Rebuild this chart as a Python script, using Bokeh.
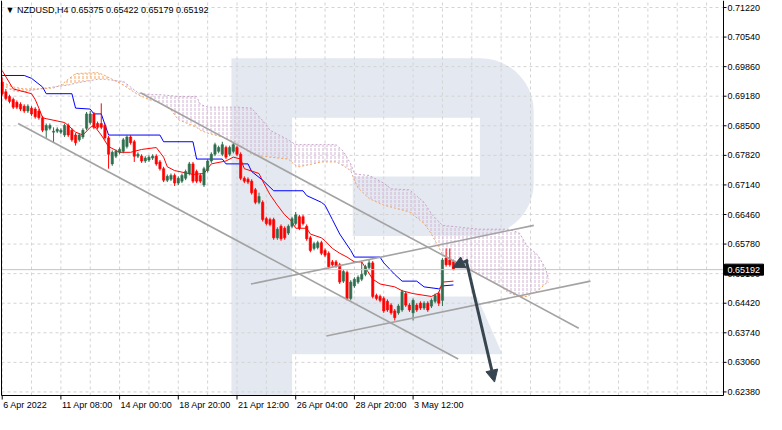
import numpy as np
from bokeh.plotting import figure
from bokeh.models import Range1d, ColumnDataSource, Arrow, NormalHead
from bokeh.core.properties import value
from bokeh.embed import file_html
from bokeh.resources import INLINE

# ---------------- data ----------------
bars = list(range(124))
open_ = [0.69503, 0.69282, 0.69171, 0.69105, 0.69039, 0.68994, 0.68950, 0.68840, 0.68906, 0.68884,
         0.68840, 0.68685, 0.68398, 0.68442, 0.68354, 0.68376, 0.68354, 0.68287, 0.68508, 0.68398,
         0.68287, 0.68177, 0.68243, 0.68442, 0.68575, 0.68773, 0.68553, 0.68553, 0.68508, 0.68221,
         0.67624, 0.67801, 0.67890, 0.67912, 0.68022, 0.68243, 0.68133, 0.67801, 0.67801, 0.67691,
         0.67713, 0.67757, 0.67801, 0.67669, 0.67514, 0.67249, 0.67271, 0.67359, 0.67182, 0.67227,
         0.67293, 0.67403, 0.67624, 0.67448, 0.67359, 0.67138, 0.67470, 0.67691, 0.67845, 0.67912,
         0.67845, 0.68000, 0.67845, 0.67912, 0.68000, 0.67845, 0.67293, 0.67271, 0.67227, 0.67028,
         0.66740, 0.66740, 0.66365, 0.66343, 0.66343, 0.65923, 0.66188, 0.66144, 0.66033, 0.66188,
         0.66254, 0.66409, 0.66409, 0.66188, 0.65923, 0.65680, 0.65702, 0.65812, 0.65635, 0.65569,
         0.65370, 0.65370, 0.65304, 0.64928, 0.65127, 0.64530, 0.64818, 0.64906, 0.64972, 0.65083,
         0.65238, 0.65348, 0.64597, 0.64575, 0.64530, 0.64464, 0.64376, 0.64243, 0.64199, 0.64265,
         0.64641, 0.64376, 0.64199, 0.64376, 0.64420, 0.64309, 0.64420, 0.64354, 0.64464, 0.64641,
         0.64486, 0.65459, 0.65414, 0.65375]
high_ = [0.69613, 0.69348, 0.69215, 0.69149, 0.69083, 0.69039, 0.68994, 0.68994, 0.68950, 0.68928,
         0.68884, 0.68729, 0.68553, 0.68553, 0.68464, 0.68464, 0.68442, 0.68553, 0.68553, 0.68442,
         0.68332, 0.68332, 0.68442, 0.68818, 0.68840, 0.68818, 0.68597, 0.69016, 0.68553, 0.68265,
         0.67934, 0.67956, 0.68000, 0.68221, 0.68287, 0.68287, 0.68177, 0.67890, 0.67845, 0.67801,
         0.67823, 0.67845, 0.67845, 0.67713, 0.67558, 0.67381, 0.67403, 0.67403, 0.67337, 0.67403,
         0.67492, 0.67669, 0.67669, 0.67492, 0.67403, 0.67558, 0.67735, 0.67890, 0.68111, 0.68044,
         0.68133, 0.68044, 0.68044, 0.68111, 0.68044, 0.67890, 0.67337, 0.67315, 0.67271, 0.67072,
         0.66961, 0.66785, 0.66409, 0.66387, 0.66387, 0.66166, 0.66232, 0.66188, 0.66232, 0.66409,
         0.66519, 0.66453, 0.66453, 0.66232, 0.65967, 0.65834, 0.65856, 0.65856, 0.65680, 0.65613,
         0.65414, 0.65414, 0.65348, 0.65193, 0.65171, 0.64950, 0.65017, 0.65061, 0.65370, 0.65304,
         0.65414, 0.65392, 0.64641, 0.64619, 0.64575, 0.64508, 0.64420, 0.64287, 0.64398, 0.64729,
         0.64685, 0.64420, 0.64530, 0.64420, 0.64464, 0.64464, 0.64464, 0.64530, 0.64641, 0.64685,
         0.65459, 0.65680, 0.65680, 0.65422]
low_ = [0.69193, 0.69083, 0.69016, 0.68884, 0.68884, 0.68840, 0.68796, 0.68796, 0.68729, 0.68663,
        0.68641, 0.68354, 0.68221, 0.68398, 0.68111, 0.68332, 0.68310, 0.68243, 0.68243, 0.68133,
        0.68044, 0.68133, 0.68199, 0.68398, 0.68530, 0.68420, 0.68420, 0.68420, 0.68177, 0.67514,
        0.67580, 0.67757, 0.67845, 0.67868, 0.67978, 0.68066, 0.67669, 0.67757, 0.67647, 0.67647,
        0.67669, 0.67713, 0.67580, 0.67470, 0.67205, 0.67205, 0.67227, 0.67116, 0.67138, 0.67182,
        0.67249, 0.67359, 0.67182, 0.67182, 0.67182, 0.67094, 0.67426, 0.67647, 0.67801, 0.67868,
        0.67801, 0.67735, 0.67801, 0.67868, 0.67801, 0.67249, 0.67182, 0.67160, 0.66917, 0.66696,
        0.66696, 0.66298, 0.66210, 0.66188, 0.65879, 0.65879, 0.65856, 0.65879, 0.65989, 0.66144,
        0.66210, 0.66100, 0.66210, 0.65856, 0.65591, 0.65635, 0.65658, 0.65525, 0.65481, 0.65216,
        0.65260, 0.65238, 0.64862, 0.64884, 0.64486, 0.64486, 0.64774, 0.64862, 0.64928, 0.65039,
        0.65193, 0.64530, 0.64486, 0.64442, 0.64199, 0.64221, 0.64155, 0.64022, 0.64155, 0.64221,
        0.64332, 0.64221, 0.64022, 0.64221, 0.64265, 0.64265, 0.64221, 0.64309, 0.64420, 0.64354,
        0.64354, 0.65260, 0.65260, 0.65179]
close_ = [0.69238, 0.69127, 0.69061, 0.68928, 0.68928, 0.68884, 0.68840, 0.68950, 0.68773, 0.68707,
          0.68685, 0.68398, 0.68508, 0.68508, 0.68376, 0.68420, 0.68398, 0.68508, 0.68287, 0.68177,
          0.68111, 0.68287, 0.68398, 0.68773, 0.68773, 0.68464, 0.68464, 0.68464, 0.68221, 0.67845,
          0.67890, 0.67912, 0.67956, 0.68177, 0.68243, 0.68111, 0.67801, 0.67845, 0.67691, 0.67757,
          0.67779, 0.67801, 0.67624, 0.67514, 0.67249, 0.67337, 0.67359, 0.67182, 0.67293, 0.67359,
          0.67448, 0.67624, 0.67227, 0.67227, 0.67227, 0.67514, 0.67691, 0.67845, 0.68066, 0.68000,
          0.68066, 0.67779, 0.68000, 0.68066, 0.67845, 0.67293, 0.67227, 0.67205, 0.66961, 0.66740,
          0.66873, 0.66343, 0.66254, 0.66232, 0.65923, 0.66122, 0.65901, 0.65923, 0.66188, 0.66365,
          0.66453, 0.66144, 0.66254, 0.65901, 0.65635, 0.65790, 0.65812, 0.65569, 0.65525, 0.65260,
          0.65304, 0.65282, 0.64906, 0.65149, 0.64530, 0.64906, 0.64972, 0.65017, 0.65083, 0.65260,
          0.65348, 0.64575, 0.64530, 0.64486, 0.64243, 0.64265, 0.64199, 0.64088, 0.64354, 0.64685,
          0.64376, 0.64265, 0.64486, 0.64265, 0.64309, 0.64420, 0.64265, 0.64486, 0.64597, 0.64420,
          0.65414, 0.65304, 0.65304, 0.65192]

tenkan_bar = [0, 3, 8, 9, 10, 11, 12, 17, 18, 20, 22, 24, 25, 27, 29, 32, 35, 38, 42, 44,
              45, 47, 52, 55, 57, 61, 63, 65, 66, 70, 71, 73, 75, 77, 79, 80, 83, 84, 87, 88,
              90, 92, 94, 96, 98, 101, 103, 107, 109, 112, 117, 119, 120, 123]
tenkan_val = [0.69768, 0.69348, 0.69238, 0.69105, 0.68906, 0.68685, 0.68663, 0.68575, 0.68508, 0.68354,
              0.68287, 0.68464, 0.68508, 0.68287, 0.68022, 0.67890, 0.67890, 0.67956, 0.68000, 0.67779,
              0.67558, 0.67470, 0.67381, 0.67403, 0.67624, 0.67691, 0.67779, 0.67735, 0.67514, 0.67403,
              0.67227, 0.66917, 0.66674, 0.66453, 0.66298, 0.66144, 0.66144, 0.66011, 0.65923, 0.65856,
              0.65680, 0.65569, 0.65481, 0.65370, 0.65370, 0.64972, 0.64862, 0.64796, 0.64707, 0.64641,
              0.64575, 0.64663, 0.64906, 0.64928]
kijun_bar = [0, 6, 8, 11, 12, 19, 20, 24, 25, 27, 29, 43, 44, 52, 53, 60, 61, 67, 68, 71,
             74, 82, 83, 87, 88, 90, 92, 95, 96, 103, 104, 107, 109, 113, 115, 119, 120, 123]
kijun_val = [0.69657, 0.69657, 0.69591, 0.69392, 0.69238, 0.69238, 0.68906, 0.68884, 0.68773, 0.68773,
             0.68287, 0.68287, 0.68133, 0.68133, 0.67735, 0.67735, 0.67624, 0.67624, 0.67448, 0.67249,
             0.67006, 0.67006, 0.66895, 0.66740, 0.66674, 0.66343, 0.66011, 0.65635, 0.65481, 0.65481,
             0.65348, 0.65083, 0.64928, 0.64928, 0.64796, 0.64751, 0.64818, 0.64840]
cloud_bar = [0, 3, 6, 10, 14, 16, 18, 20, 26, 28, 30, 32, 33, 35, 37, 40, 43, 46, 48, 53,
             54, 56, 60, 64, 68, 71, 73, 78, 80, 81, 87, 91, 93, 95, 96, 97, 100, 104, 106, 111,
             115, 117, 119, 120, 125, 130, 135, 138, 141, 143, 146, 148, 149]
span_a = [0.69503, 0.69392, 0.69348, 0.69348, 0.69370, 0.69436, 0.69569, 0.69701, 0.69724, 0.69657,
          0.69569, 0.69481, 0.69436, 0.69326, 0.69215, 0.69105, 0.69039, 0.68862, 0.68641, 0.68464,
          0.68398, 0.68332, 0.68243, 0.68111, 0.67845, 0.67801, 0.67779, 0.67735, 0.67580, 0.67558,
          0.67669, 0.67669, 0.67580, 0.67470, 0.67249, 0.67072, 0.66829, 0.66674, 0.66630, 0.66519,
          0.66254, 0.66011, 0.65702, 0.65547, 0.65304, 0.65083, 0.64862, 0.64663, 0.64575, 0.64575,
          0.64707, 0.64862, 0.64906]
span_b = [0.69436, 0.69304, 0.69282, 0.69348, 0.69392, 0.69414, 0.69436, 0.69481, 0.69569, 0.69569,
          0.69547, 0.69525, 0.69525, 0.69392, 0.69260, 0.69215, 0.69215, 0.69193, 0.69171, 0.69171,
          0.68994, 0.68928, 0.68928, 0.68928, 0.68906, 0.68619, 0.68398, 0.68177, 0.68066, 0.68066,
          0.68066, 0.68066, 0.67912, 0.67624, 0.67403, 0.67381, 0.67359, 0.67182, 0.67050, 0.67028,
          0.66740, 0.66475, 0.66298, 0.66210, 0.66166, 0.66122, 0.66122, 0.66122, 0.66033, 0.65746,
          0.65525, 0.65238, 0.64972]

tick_bars = [0, 16, 32, 48, 64, 80, 96, 112]
tick_labels = ["6 Apr 2022", "11 Apr 08:00", "14 Apr 00:00", "18 Apr 20:00",
               "21 Apr 12:00", "26 Apr 04:00", "28 Apr 20:00", "3 May 12:00"]
price_ticks = [0.6238, 0.6306, 0.6374, 0.6442, 0.6510, 0.6578, 0.6646,
               0.6714, 0.6782, 0.6850, 0.6918, 0.6986, 0.7054, 0.7122]
last_price = 0.65192
title_text = "\u25bc NZDUSD,H4  0.65375 0.65422 0.65179 0.65192"

# analyst drawings (bar index, price)
trend_x0 = [4.35, 37.7, 67.8, 88.35]
trend_y0 = [0.68553, 0.69260, 0.64862, 0.63668]
trend_x1 = [124.3, 157.15, 144.9, 160.35]
trend_y1 = [0.63138, 0.63845, 0.66210, 0.64928]
arrow_x0 = [126.5, 127.0]
arrow_y0 = [0.65392, 0.65414]
arrow_x1 = [134.2, 122.75]
arrow_y1 = [0.62607, 0.65238]

# ---------------- layout / styling ----------------
W, H = 766, 414
L, R, T, B = 1, 723, 0, 395          # chart frame inside the canvas (px)
X0, X1 = -0.19, 196.61               # bars visible in the chart frame
Y0, Y1 = 0.62298, 0.71381            # prices visible in the chart frame
KX = (X1 - X0) / (R - L)             # bars per pixel
KY = (Y1 - Y0) / (B - T)             # price per pixel
FONT = "Liberation Sans"
FS = "9px"
BULL = "#2f6e4e"
BEAR = "#ff0000"
ARROW = "#36454f"
LOGO = "#e4e9f1"
GRID = "#d3d3d3"

p = figure(width=W, height=H, output_backend="svg", toolbar_location=None,
           x_range=Range1d(X0 - L * KX, X1 + (W - R) * KX),
           y_range=Range1d(Y0 - (H - B) * KY, Y1 + T * KY),
           x_axis_location=None, y_axis_location=None,
           min_border=0, min_border_left=0, min_border_right=0,
           min_border_top=0, min_border_bottom=0,
           background_fill_color="white", border_fill_color="white",
           outline_line_color=None)
p.xgrid.visible = False
p.ygrid.visible = False

# watermark "R" (geometry in the reference's pixel layout of the chart frame)
def fx(px):
    return X0 + (px - 1.0) / 738.0 * (X1 - X0)

def fy(py):
    return Y1 - py / 411.0 * (Y1 - Y0)

stem = [(236, 60), (298, 60), (298, 411), (236, 411)]
bowl = [(298, 60), (490, 60)]
for t in np.linspace(0, np.pi / 2, 12):
    bowl.append((490 + 55 * np.sin(t), 115 - 55 * np.cos(t)))
bowl.append((545, 190))
for t in np.linspace(0, np.pi / 2, 12):
    bowl.append((490 + 55 * np.cos(t), 190 + 55 * np.sin(t)))
bowl += [(360, 245), (360, 183), (490, 183), (490, 122), (298, 122)]
leg = [(298, 308), (487, 308), (513, 368), (298, 368)]
p.patches([[fx(a) for a, _ in poly] for poly in (stem, bowl, leg)],
          [[fy(b) for _, b in poly] for poly in (stem, bowl, leg)],
          fill_color=LOGO, line_color=None)

# grid (dashed), limited to the chart frame
gx = list(range(0, 200, 8))
p.segment(x0=gx, y0=[Y0] * len(gx), x1=gx, y1=[Y1] * len(gx),
          line_color=GRID, line_dash="3 3", line_width=1)
p.segment(x0=[X0] * len(price_ticks), y0=price_ticks, x1=[X1] * len(price_ticks), y1=price_ticks,
          line_color=GRID, line_dash="3 3", line_width=1)

# Ichimoku cloud
a = np.array(span_a)
b = np.array(span_b)
upper = np.maximum(a, b)
p.varea(x=cloud_bar, y1=b, y2=upper, fill_color=None, fill_alpha=0,
        hatch_pattern="vertical_dash", hatch_color="#f4a460", hatch_scale=4, hatch_weight=1)
p.varea(x=cloud_bar, y1=a, y2=upper, fill_color=None, fill_alpha=0,
        hatch_pattern="vertical_dash", hatch_color="#d2b4d2", hatch_scale=4, hatch_weight=1)
p.line(cloud_bar, span_a, line_color="#f4a460", line_dash="2 2", line_width=1)
p.line(cloud_bar, span_b, line_color="#c9a3c9", line_dash="2 2", line_width=1)
p.line(kijun_bar, kijun_val, line_color="#0000ff", line_width=1)
p.line(tenkan_bar, tenkan_val, line_color="#ff0000", line_width=1)

# candles
o = np.array(open_)
c = np.array(close_)
cols = np.where(c >= o, BULL, BEAR)
src = ColumnDataSource(dict(x=bars, h=high_, l=low_, top=np.maximum(o, c),
                            bot=np.minimum(o, c), col=cols))
p.segment(x0="x", y0="l", x1="x", y1="h", line_color="col", line_width=1, source=src)
p.vbar(x="x", width=0.62, top="top", bottom="bot", fill_color="col",
       line_color="col", line_width=0.6, source=src)

# current price line
p.segment(x0=[X0], y0=[last_price], x1=[X1], y1=[last_price], line_color="#c4c4c4", line_width=1)

# trend lines
p.segment(x0=trend_x0, y0=trend_y0, x1=trend_x1, y1=trend_y1,
          line_color="#a3a3a3", line_width=1.6)

# arrows
for i in range(len(arrow_x0)):
    p.add_layout(Arrow(end=NormalHead(size=12, fill_color=ARROW, line_color=ARROW),
                       x_start=arrow_x0[i], y_start=arrow_y0[i],
                       x_end=arrow_x1[i], y_end=arrow_y1[i],
                       line_color=ARROW, line_width=3))

# chart frame (left, bottom, right)
p.segment(x0=[X0, X0, X1], y0=[Y0, Y0, Y0], x1=[X0, X1, X1], y1=[Y1 + T * KY, Y0, Y1 + T * KY],
          line_color="black", line_width=1)

# price scale (right)
n = len(price_ticks)
p.segment(x0=[X1] * n, y0=price_ticks, x1=[X1 + 3 * KX] * n, y1=price_ticks,
          line_color="black", line_width=1)
p.text(x=[X1 + 4 * KX] * n, y=price_ticks, text=[f"{v:.5f}" for v in price_ticks],
       text_font=value(FONT), text_font_size=FS, text_color="black",
       text_baseline="middle", text_align="left")
p.quad(left=[X1 + 1 * KX], right=[X1 + 40 * KX], bottom=[last_price - 5.5 * KY],
       top=[last_price + 5.5 * KY], fill_color="black", line_color="black")
p.text(x=[X1 + 4 * KX], y=[last_price], text=[f"{last_price:.5f}"],
       text_font=value(FONT), text_font_size=FS, text_color="white",
       text_baseline="middle", text_align="left")

# time scale (bottom)
m = len(tick_bars)
p.segment(x0=tick_bars, y0=[Y0] * m, x1=tick_bars, y1=[Y0 - 4 * KY] * m,
          line_color="black", line_width=1)
p.text(x=[t_ + 1 * KX for t_ in tick_bars], y=[Y0 - 4 * KY] * m, text=tick_labels,
       text_font=value(FONT), text_font_size=FS, text_color="black",
       text_baseline="top", text_align="left")

# title
p.text(x=[X0 + 4 * KX], y=[Y1 - 9 * KY], text=[title_text],
       text_font=value(FONT), text_font_size=FS, text_color="black",
       text_baseline="middle", text_align="left")

open("out.html", "w").write(file_html(p, INLINE))
